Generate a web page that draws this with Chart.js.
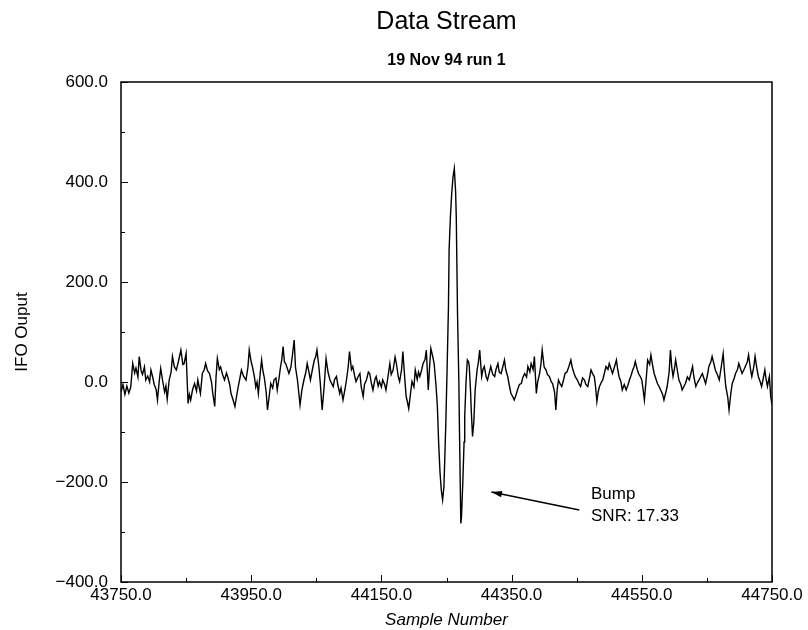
<!DOCTYPE html>
<html>
<head>
<meta charset="utf-8">
<script src="https://cdn.jsdelivr.net/npm/chart.js@4.4.0/dist/chart.umd.min.js"></script>
<style>
  html, body { margin: 0; padding: 0; background: #fff; }
  #wrap { width: 808px; height: 630px; }
</style>
</head>
<body>
<div id="wrap"><canvas id="stream-chart"></canvas></div>
<script>
// trace, sample number -> IFO output
var sampleNumbers = [
  43750, 43753, 43756, 43759, 43762, 43765, 43768, 43771, 43773, 43776,
  43778, 43781, 43783, 43786, 43788, 43791, 43794, 43796, 43799, 43801,
  43804, 43806, 43809, 43811, 43814, 43817, 43819, 43821, 43824, 43827,
  43829, 43832, 43835, 43838, 43842, 43845, 43847, 43850, 43853, 43855,
  43857, 43860, 43863, 43866, 43868, 43870, 43872, 43875, 43878, 43880,
  43883, 43886, 43889, 43891, 43894, 43896, 43898, 43901, 43903, 43906,
  43909, 43912, 43914, 43917, 43919, 43922, 43925, 43928, 43930, 43933,
  43935, 43938, 43942, 43945, 43947, 43950, 43952, 43955, 43957, 43959,
  43961, 43964, 43966, 43968, 43970, 43973, 43975, 43978, 43980, 43983,
  43985, 43988, 43990, 43993, 43995, 43997, 43999, 44001, 44003, 44006,
  44008, 44011, 44013, 44016, 44018, 44021, 44023, 44025, 44028, 44031,
  44034, 44036, 44039, 44041, 44044, 44047, 44049, 44051, 44054, 44056,
  44059, 44062, 44065, 44068, 44071, 44076, 44078, 44081, 44083, 44086,
  44088, 44091, 44094, 44096, 44099, 44101, 44104, 44106, 44109, 44111,
  44114, 44117, 44119, 44122, 44124, 44127, 44130, 44132, 44135, 44137,
  44140, 44142, 44145, 44147, 44150, 44152, 44155, 44157, 44160, 44163,
  44165, 44168, 44171, 44173, 44176, 44178, 44181, 44183, 44186, 44188,
  44190, 44192, 44195, 44197, 44200, 44202, 44205, 44207, 44209, 44212,
  44214, 44217, 44219, 44222, 44224, 44226, 44229, 44231, 44234, 44236,
  44238, 44240, 44242, 44244, 44246, 44247, 44249, 44251, 44253, 44254,
  44256, 44258, 44260, 44262, 44264, 44265, 44267, 44269, 44270, 44272,
  44273, 44275, 44277, 44278, 44280, 44282, 44284, 44285, 44287, 44288,
  44290, 44292, 44294, 44297, 44299, 44301, 44304, 44306, 44308, 44311,
  44313, 44316, 44318, 44321, 44324, 44326, 44329, 44331, 44334, 44339,
  44341, 44344, 44347, 44349, 44352, 44354, 44357, 44359, 44362, 44365,
  44367, 44370, 44373, 44375, 44378, 44380, 44383, 44385, 44388, 44390,
  44393, 44395, 44397, 44400, 44403, 44405, 44408, 44411, 44413, 44416,
  44418, 44420, 44422, 44425, 44427, 44430, 44432, 44435, 44438, 44441,
  44443, 44446, 44448, 44451, 44454, 44456, 44459, 44462, 44464, 44467,
  44470, 44472, 44475, 44477, 44479, 44481, 44483, 44485, 44488, 44490,
  44493, 44495, 44498, 44500, 44503, 44505, 44508, 44511, 44513, 44515,
  44518, 44520, 44523, 44526, 44529, 44531, 44534, 44536, 44538, 44540,
  44543, 44545, 44548, 44550, 44552, 44554, 44557, 44559, 44562, 44564,
  44567, 44569, 44572, 44574, 44577, 44579, 44582, 44584, 44587, 44589,
  44592, 44594, 44596, 44598, 44600, 44602, 44605, 44607, 44610, 44612,
  44615, 44617, 44620, 44623, 44625, 44628, 44630, 44633, 44636, 44638,
  44641, 44643, 44646, 44648, 44651, 44653, 44656, 44658, 44661, 44663,
  44666, 44669, 44672, 44675, 44677, 44679, 44682, 44684, 44687, 44689,
  44692, 44694, 44697, 44699, 44702, 44704, 44707, 44709, 44712, 44714,
  44717, 44719, 44722, 44724, 44727, 44729, 44732, 44734, 44737, 44739,
  44741, 44743, 44745, 44746, 44748, 44750
];

var ifoOutput = [
  -20, -5, -25, -8, -22, -10, 37, 18, 28, 10,
  51, 22, 15, 30, 4, 12, 0, 24, 8, -5,
  -15, -36, 5, 27, 2, -20, -8, -34, 4, 20,
  51, 30, 24, 40, 64, 35, 37, 57, -43, -25,
  -36, -15, -3, -18, 4, -10, -23, 17, 25, 37,
  22, 17, 0, -23, -49, 10, 47, 25, 30, 15,
  4, 18, 10, -5, -23, -35, -49, -25, -10, 10,
  24, 12, 4, 30, 64, 40, 30, 10, -10, 0,
  -23, 20, 44, 22, 10, -20, -56, -25, -3, -12,
  4, 8, -16, 10, 30, 45, 71, 40, 37, 25,
  17, 30, 50, 84, 30, 4, -20, -46, -15, 4,
  20, 37, 18, 4, 25, 44, 50, 64, 30, 0,
  -56, -10, 47, 20, 4, -9, 5, 11, -5, -23,
  -12, -36, -15, 1, 30, 61, 25, 31, 12, 1,
  10, 17, -10, -29, -5, 4, 20, 17, -5, -16,
  5, 11, -8, 1, -10, 4, -5, -16, 10, 37,
  15, 24, 50, 37, 10, 1, 25, 61, 5, -29,
  -40, -53, -20, 1, -10, 24, 5, 20, 11, 25,
  37, 45, 64, -16, 30, 67, 50, 37, -9, -50,
  -123, -180, -216, -236, -210, -169, -80, 31, 150, 264,
  330, 377, 410, 427, 380, 331, 131, 0, -103, -283,
  -270, -203, -120, -69, 0, 44, 40, 31, -20, -56,
  -109, -80, -16, 24, 40, 64, 11, 25, 31, 10,
  4, 20, 31, 15, 11, 25, 37, 20, 17, 44,
  25, 11, -10, -23, -30, -36, -25, -16, -5, -3,
  8, 17, 10, 31, 20, 37, 25, 51, -23, 0,
  17, 35, 64, 30, 24, 15, 11, 0, -3, -20,
  -56, -15, 4, -5, -9, 5, 17, 20, 31, 44,
  30, 17, 10, 4, -5, -9, 8, 4, -5, -9,
  10, 24, 15, 11, -10, -39, -20, -9, 0, 4,
  20, 31, 25, 37, 25, 17, 30, 44, 25, 11,
  0, -16, -5, -16, -5, 4, 15, 24, 30, 41,
  25, 17, 10, 4, -15, -36, 10, 44, 35, 54,
  30, 17, 5, -3, -10, -16, -25, -36, -20, -9,
  20, 64, 30, 11, 25, 44, 20, 4, -5, -16,
  -8, -3, 10, 4, 15, 31, 10, -9, 0, 4,
  12, 17, 5, -3, 15, 31, 40, 51, 35, 24,
  15, 4, 30, 57, 20, -9, -30, -56, -20, -3,
  8, 17, 25, 37, 25, 17, 25, 31, 40, 54,
  25, 11, 30, 51, 25, 11, 0, -9, 10, 24,
  5, -9, 5, 11, -29, -45
];

var xTickValues = [43750, 43950, 44150, 44350, 44550, 44750];
var xMinorTicks = [43850, 44050, 44250, 44450, 44650];
var yTickValues = [-400, -200, 0, 200, 400, 600];
var yMinorTicks = [-300, -100, 100, 300, 500];

var bumpNote = ["Bump", "SNR: 17.33"];
var arrowTip = { x: 44319, y: -220 };
var arrowTail = { x: 44454, y: -256 };
var noteAt = { x: 44472, y: -224 };

var FONT = '"Liberation Sans", Arial, Helvetica, sans-serif';

// frame, inward tick marks, titles and the "Bump" note
var frameAndNotes = {
  id: 'frameAndNotes',
  afterDraw: function (chart) {
    var ctx = chart.ctx;
    var a = chart.chartArea;
    var xs = chart.scales.x;
    var ys = chart.scales.y;
    ctx.save();

    ctx.strokeStyle = '#000';
    ctx.lineWidth = 1.5;
    ctx.strokeRect(a.left, a.top, a.right - a.left, a.bottom - a.top);

    ctx.lineWidth = 1;
    ctx.beginPath();
    xTickValues.forEach(function (v) {
      var p = Math.round(xs.getPixelForValue(v)) + 0.5;
      ctx.moveTo(p, a.bottom); ctx.lineTo(p, a.bottom - 7);
    });
    xMinorTicks.forEach(function (v) {
      var p = Math.round(xs.getPixelForValue(v)) + 0.5;
      ctx.moveTo(p, a.bottom); ctx.lineTo(p, a.bottom - 4);
    });
    yTickValues.forEach(function (v) {
      var p = Math.round(ys.getPixelForValue(v)) + 0.5;
      ctx.moveTo(a.left, p); ctx.lineTo(a.left + 7, p);
    });
    yMinorTicks.forEach(function (v) {
      var p = Math.round(ys.getPixelForValue(v)) + 0.5;
      ctx.moveTo(a.left, p); ctx.lineTo(a.left + 4, p);
    });
    ctx.stroke();

    var cx = (a.left + a.right) / 2;
    ctx.fillStyle = '#000';
    ctx.textAlign = 'center';
    ctx.textBaseline = 'middle';
    ctx.font = '25px ' + FONT;
    ctx.fillText('Data Stream', cx, 22);
    ctx.font = 'bold 16px ' + FONT;
    ctx.fillText('19 Nov 94 run 1', cx, 61);

    // arrow pointing at the bump
    var tx = xs.getPixelForValue(arrowTip.x), ty = ys.getPixelForValue(arrowTip.y);
    var sx = xs.getPixelForValue(arrowTail.x), sy = ys.getPixelForValue(arrowTail.y);
    var ang = Math.atan2(ty - sy, tx - sx);
    ctx.lineWidth = 1.5;
    ctx.beginPath();
    ctx.moveTo(sx, sy);
    ctx.lineTo(tx, ty);
    ctx.stroke();
    ctx.beginPath();
    ctx.moveTo(tx, ty);
    ctx.lineTo(tx - 11 * Math.cos(ang - 0.3), ty - 11 * Math.sin(ang - 0.3));
    ctx.lineTo(tx - 11 * Math.cos(ang + 0.3), ty - 11 * Math.sin(ang + 0.3));
    ctx.closePath();
    ctx.fill();

    ctx.textAlign = 'left';
    ctx.font = '17px ' + FONT;
    var nx = xs.getPixelForValue(noteAt.x), ny = ys.getPixelForValue(noteAt.y);
    bumpNote.forEach(function (t, i) { ctx.fillText(t, nx, ny + i * 22); });

    ctx.restore();
  }
};

Chart.defaults.font.family = FONT;
Chart.defaults.font.size = 17;
Chart.defaults.color = '#000';

new Chart(document.getElementById('stream-chart'), {
  type: 'line',
  data: {
    datasets: [{
      label: 'IFO Ouput',
      data: sampleNumbers.map(function (s, i) { return { x: s, y: ifoOutput[i] }; }),
      borderColor: '#000',
      borderWidth: 1.4,
      pointRadius: 0,
      tension: 0,
      fill: false
    }]
  },
  options: {
    responsive: true,
    maintainAspectRatio: false,
    animation: false,
    layout: { padding: { top: 82, right: 36, bottom: 0, left: 0 } },
    plugins: {
      legend: { display: false },
      tooltip: { enabled: false },
      title: { display: false }
    },
    scales: {
      x: {
        type: 'linear',
        min: 43750,
        max: 44750,
        grid: { display: false, drawTicks: false },
        border: { display: false },
        afterBuildTicks: function (s) { s.ticks = xTickValues.map(function (v) { return { value: v }; }); },
        afterFit: function (s) { s.height = 48; },
        ticks: {
          padding: 3,
          maxRotation: 0,
          autoSkip: false,
          callback: function (v) { return v.toFixed(1); }
        },
        title: {
          display: true,
          text: 'Sample Number',
          font: { size: 17, style: 'italic' },
          padding: { top: 0, bottom: 0 }
        }
      },
      y: {
        min: -400,
        max: 600,
        grid: { display: false, drawTicks: false },
        border: { display: false },
        afterBuildTicks: function (s) { s.ticks = yTickValues.map(function (v) { return { value: v }; }); },
        afterFit: function (s) { s.width = 121; },
        ticks: {
          padding: 13,
          callback: function (v) { return v.toFixed(1).replace('-', '\u2212'); }
        },
        title: {
          display: true,
          text: 'IFO Ouput',
          font: { size: 17 },
          padding: { top: 12, bottom: 0 }
        }
      }
    }
  },
  plugins: [frameAndNotes]
});
</script>
</body>
</html>
